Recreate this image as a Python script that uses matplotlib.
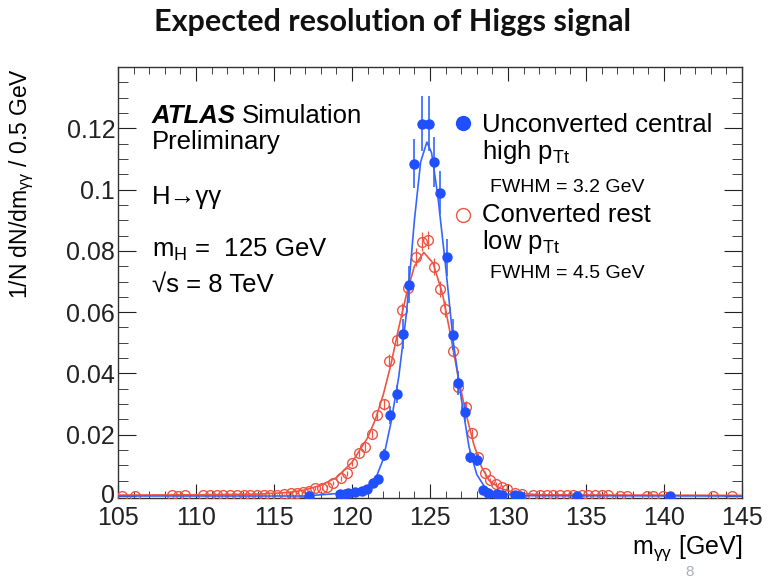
import matplotlib
matplotlib.use("Agg")
import matplotlib.pyplot as plt
from matplotlib.ticker import MultipleLocator, FuncFormatter
from matplotlib.transforms import ScaledTranslation

plt.rcParams['font.family'] = ['Liberation Sans', 'DejaVu Sans']
plt.rcParams['mathtext.fontset'] = 'custom'
plt.rcParams['mathtext.rm'] = 'Liberation Sans'
plt.rcParams['mathtext.it'] = 'Liberation Sans'
plt.rcParams['mathtext.bf'] = 'Liberation Sans:bold'

# ---------------- data ----------------
# Unconverted central, high pTt (filled blue)
blue_x = [117.26, 119.2, 119.55, 119.76, 120.19, 120.62, 120.94, 121.37, 121.69,
          122.05, 122.43, 122.86, 123.29, 123.67, 124.0, 124.47, 124.96, 125.26,
          125.64, 126.07, 126.45, 126.82, 127.27, 127.58, 127.99, 128.38, 128.74,
          129.3, 129.6, 130.45, 130.77, 134.4, 140.4]
blue_y = [0.0001, 0.0006, 0.0007, 0.001, 0.0013, 0.0016, 0.0022, 0.0041, 0.0056,
          0.0134, 0.0264, 0.0333, 0.0529, 0.069, 0.1084, 0.1215, 0.1215, 0.109,
          0.0989, 0.0779, 0.0527, 0.0368, 0.0273, 0.0128, 0.0117, 0.002, 0.001,
          0.0006, 0.0003, 0.0002, 0.0001, 0.0, 0.0]
blue_err = [0.0003, 0.0004, 0.0004, 0.0005, 0.0005, 0.0006, 0.0007, 0.001, 0.0012,
            0.002, 0.003, 0.003, 0.005, 0.006, 0.008, 0.009, 0.009, 0.008,
            0.007, 0.006, 0.005, 0.004, 0.003, 0.002, 0.002, 0.001, 0.0008,
            0.0006, 0.0004, 0.0003, 0.0003, 0.0002, 0.0002]

# Blue fit curve
blue_fit_x = [105, 117, 119, 120, 121, 121.5, 122, 122.5, 123, 123.5, 124, 124.4,
              124.8, 125.1, 125.5, 126, 126.5, 127, 127.5, 128, 128.5, 129, 130, 131, 145]
blue_fit_y = [0.0, 0.0, 0.0008, 0.0015, 0.003, 0.0055, 0.012, 0.024, 0.039, 0.06,
              0.09, 0.109, 0.1155, 0.112, 0.098, 0.075, 0.05, 0.032, 0.016, 0.007,
              0.003, 0.0015, 0.0005, 0.0001, 0.0]

# Converted rest, low pTt (open red)
red_x = [105.24, 106.09, 108.44, 108.87, 109.3, 110.47, 110.9, 111.33, 111.76,
         112.19, 112.62, 113.05, 113.48, 113.91, 114.34, 114.77, 115.2, 115.63,
         116.06, 116.45, 116.88, 117.26, 117.63, 118.06, 118.42, 118.8, 119.27,
         119.66, 120.03, 120.44, 120.83, 121.26, 121.6, 122.03, 122.39, 122.87,
         123.22, 123.61, 124.1, 124.47, 124.89, 125.26, 125.62, 125.96, 126.45,
         126.77, 127.31, 127.67, 128.1, 128.53, 128.85, 129.22, 129.6, 129.92,
         130.45, 130.88, 131.6, 132.05, 132.48, 132.9, 133.33, 133.76, 134.19,
         134.72, 135.15, 135.58, 136.0, 136.43, 137.18, 137.6, 138.89, 139.3,
         139.96, 143.16, 144.34]
red_y = [0.0001, 0.0001, 0.0002, 0.0001, 0.0002, 0.0002, 0.0003, 0.0002, 0.0003,
         0.0002, 0.0003, 0.0003, 0.0002, 0.0003, 0.0004, 0.0003, 0.0004, 0.0006,
         0.0009, 0.001, 0.0014, 0.0017, 0.0025, 0.0025, 0.003, 0.0043, 0.0058,
         0.0074, 0.0107, 0.0139, 0.016, 0.0203, 0.0264, 0.0299, 0.0442, 0.051,
         0.0607, 0.068, 0.078, 0.083, 0.0835, 0.0748, 0.0675, 0.061, 0.0474,
         0.0357, 0.0291, 0.0204, 0.0128, 0.0074, 0.0052, 0.0038, 0.003, 0.0022,
         0.0011, 0.0007, 0.0004, 0.0003, 0.0003, 0.0002, 0.0003, 0.0002, 0.0003,
         0.0002, 0.0002, 0.0003, 0.0002, 0.0002, 0.0001, 0.0001, 0.0001, 0.0001,
         0.0001, 0.0, 0.0]
red_err = [0.0001] * 17 + [0.0002, 0.0003, 0.0003, 0.0004, 0.0004, 0.0005, 0.0005,
           0.0006, 0.0007, 0.0008, 0.0009, 0.001, 0.0012, 0.0013, 0.0014, 0.0016,
           0.0017, 0.002, 0.0022, 0.0024, 0.0026, 0.0028, 0.003, 0.003, 0.0028,
           0.0026, 0.0025, 0.0022, 0.002, 0.0018, 0.0015, 0.0012, 0.0009, 0.0008,
           0.0007, 0.0006, 0.0005, 0.0004, 0.0003, 0.0002] + [0.0001] * 18

red_fit_x = [105, 110, 114, 116, 117, 118, 119, 120, 121, 121.5, 122, 122.5, 123,
             123.5, 124, 124.6, 125.2, 125.8, 126.3, 126.8, 127.3, 127.8, 128.3,
             128.8, 129.5, 130.5, 132, 145]
red_fit_y = [0.0003, 0.0004, 0.0006, 0.0012, 0.002, 0.0035, 0.006, 0.011, 0.019,
             0.025, 0.033, 0.043, 0.055, 0.066, 0.075, 0.0795, 0.076, 0.066, 0.053,
             0.039, 0.027, 0.017, 0.0095, 0.005, 0.0025, 0.001, 0.0004, 0.0002]

x_ticks = [105, 110, 115, 120, 125, 130, 135, 140, 145]
y_ticks = [0, 0.02, 0.04, 0.06, 0.08, 0.1, 0.12]

BLUE = '#1f4fff'
BLUE_LINE = '#3566ff'
RED = '#ee5544'
FS = 18.5

W, H = 773, 580
fig = plt.figure(figsize=(W / 100, H / 100), dpi=100)
ax = fig.add_axes([118 / W, (H - 498) / H, (742 - 118) / W, (498 - 67) / H])

# red series
ax.errorbar(red_x, red_y, yerr=red_err, fmt='none', ecolor=RED, elinewidth=0.9, zorder=2)
ax.plot(red_fit_x, red_fit_y, color=RED, lw=1.2, zorder=3)
ax.plot(red_x, red_y, 'o', ms=7, mfc='none', mec=RED, mew=1.0, zorder=4)

# blue series
ax.errorbar(blue_x, blue_y, yerr=blue_err, fmt='none', ecolor=BLUE_LINE, elinewidth=1.2, zorder=5)
ax.plot(blue_fit_x, blue_fit_y, color=BLUE_LINE, lw=1.2, zorder=6)
ax.plot(blue_x, blue_y, 'o', ms=6.5, color=BLUE, mec=BLUE, zorder=7)

ax.set_xlim(105, 145)
ax.set_ylim(-0.00065, 0.14)
ax.set_xticks(x_ticks)
ax.set_yticks(y_ticks)
ax.xaxis.set_minor_locator(MultipleLocator(1))
ax.yaxis.set_minor_locator(MultipleLocator(0.005))
ax.yaxis.set_major_formatter(FuncFormatter(lambda v, p: f"{v:g}"))
ax.tick_params(which='both', direction='in', top=True, right=True,
               labelsize=18, colors='#222222')
ax.tick_params(axis='y', which='major', length=13, pad=2)
ax.tick_params(axis='y', which='minor', length=7)
ax.tick_params(axis='x', which='major', length=10, pad=6)
ax.tick_params(axis='x', which='minor', length=5)
for s in ax.spines.values():
    s.set_linewidth(1.0)
    s.set_color('#333333')

# nudge the "0" y label slightly up, away from the "105" label
fig.canvas.draw()
for lbl in ax.get_yticklabels():
    if lbl.get_text() == "0":
        lbl.set_transform(lbl.get_transform() + ScaledTranslation(0, 3 / 100, fig.dpi_scale_trans))

def px(x, y):
    return x / W, 1 - y / H

# title
fig.text(*px(392, 22), "Expected resolution of Higgs signal", family='Lato',
         fontweight='bold', fontsize=22, ha='center', va='center', color='#111111')

# axis labels
fig.text(*px(22, 183), r"1/N dN/dm$_{\gamma\gamma}$ / 0.5 GeV", rotation=90,
         fontsize=16.5, ha='center', va='center')
fig.text(*px(742, 548), r"m$_{\gamma\gamma}$ [GeV]", fontsize=18, ha='right', va='center')
fig.text(*px(690, 572), "8", fontsize=11, color='#a8aec0', ha='center', va='center')

# ATLAS labels
t_atlas = fig.text(*px(152, 116), "ATLAS", fontsize=FS, fontweight='bold', style='italic',
                   ha='left', va='center')
fig.canvas.draw()
bb = t_atlas.get_window_extent()
fig.text(bb.x1 / W + 6 / W, 1 - 116 / H, "Simulation", fontsize=FS, ha='left', va='center')
fig.text(*px(152, 142), "Preliminary", fontsize=FS, ha='left', va='center')
fig.text(*px(152, 197), "H\u2192\u03b3\u03b3", fontsize=FS, ha='left', va='center')
fig.text(*px(152, 250), r"m$_{\mathrm{H}}$ =  125 GeV", fontsize=FS, ha='left', va='center')
fig.text(*px(152, 285), "\u221as = 8 TeV", fontsize=FS, ha='left', va='center')

# legend
fig.lines.append(plt.Line2D([463 / W], [1 - 123 / H], marker='o', ms=10, color=BLUE,
                            transform=fig.transFigure, figure=fig))
fig.text(*px(482, 125), "Unconverted central", fontsize=FS, ha='left', va='center')
fig.text(*px(482, 152), r"high p$_{\mathrm{Tt}}$", fontsize=FS, ha='left', va='center')
fig.text(*px(490, 188), "FWHM = 3.2 GeV", fontsize=14, ha='left', va='center')
fig.lines.append(plt.Line2D([463 / W], [1 - 215 / H], marker='o', ms=10, mfc='none',
                            mec=RED, mew=1.0, transform=fig.transFigure, figure=fig))
fig.text(*px(482, 215), "Converted rest", fontsize=FS, ha='left', va='center')
fig.text(*px(482, 242), r"low p$_{\mathrm{Tt}}$", fontsize=FS, ha='left', va='center')
fig.text(*px(490, 273), "FWHM = 4.5 GeV", fontsize=14, ha='left', va='center')

fig.savefig("out.png", dpi=100)
